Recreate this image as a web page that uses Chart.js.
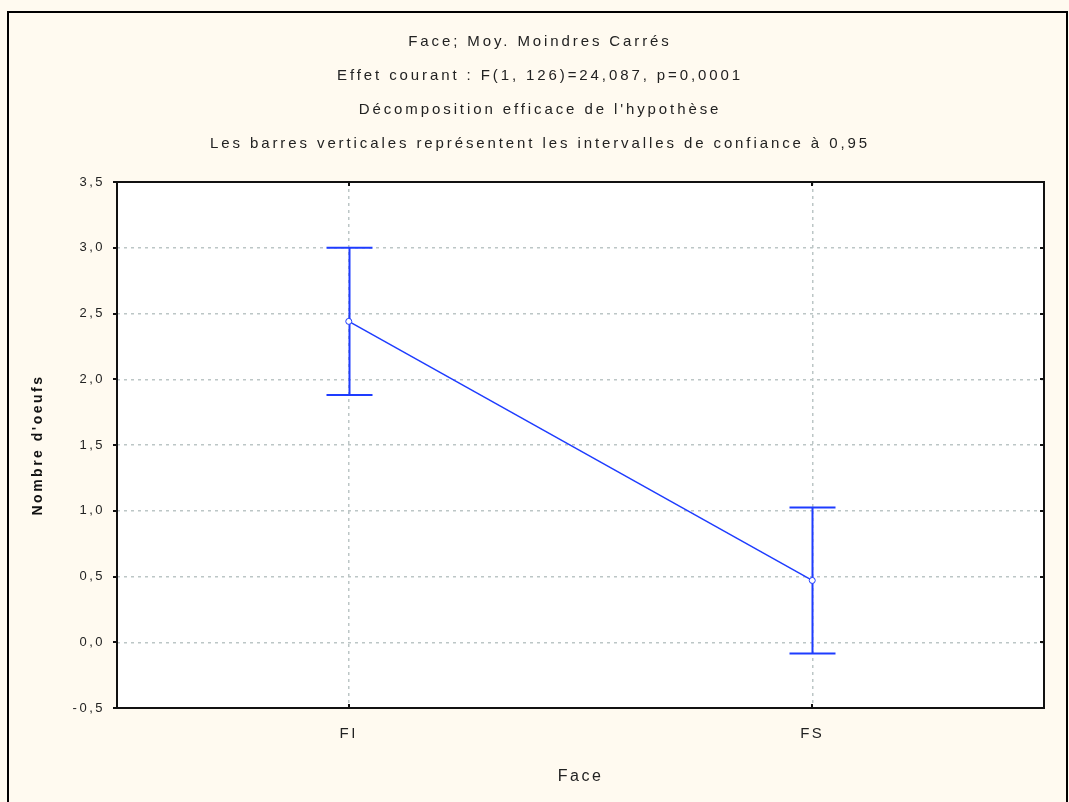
<!DOCTYPE html>
<html>
<head>
<meta charset="utf-8">
<script src="https://cdn.jsdelivr.net/npm/chart.js@4.4.1/dist/chart.umd.min.js"></script>
<style>
  body { margin: 0; background: #fffaf0; }
  #wrap { width: 1069px; height: 802px; }
</style>
</head>
<body>
<div id="wrap"><canvas id="myChart"></canvas></div>
<script>
// valeurs
const categories = ['FI', 'FS'];
const means = [2.44, 0.47];
const lower = [1.88, -0.085];
const upper = [3.0, 1.025];
const yTicks = [-0.5, 0, 0.5, 1, 1.5, 2, 2.5, 3, 3.5];

const titleLines = [
    'Face; Moy. Moindres Carrés',
    'Effet courant : F(1, 126)=24,087, p=0,0001',
    "Décomposition efficace de l'hypothèse",
    'Les barres verticales représentent les intervalles de confiance à 0,95'
];
const xTitle = 'Face';
const yTitle = "Nombre d'oeufs";

const blue = '#1e3cff';
const fam = '"Liberation Sans", Arial, sans-serif';

const decor = {
    id: 'decor',
    beforeDraw(chart) {
        const ctx = chart.ctx;
        const a = chart.chartArea;
        ctx.save();
        ctx.fillStyle = '#fffaf0';
        ctx.fillRect(0, 0, chart.width, chart.height);
        ctx.fillStyle = '#ffffff';
        ctx.fillRect(a.left, a.top, a.right - a.left, a.bottom - a.top);
        ctx.strokeStyle = '#000';
        ctx.lineWidth = 2;
        ctx.strokeRect(8, 12, 1059, 830);
        ctx.restore();
        // espacement des lettres comme dans l'original
        ctx.letterSpacing = '2.5px';
    },
    beforeDatasetsDraw(chart) {
        const ctx = chart.ctx;
        const x = chart.scales.x, y = chart.scales.y;
        ctx.save();
        ctx.strokeStyle = blue;
        ctx.lineWidth = 2;
        for (let i = 0; i < categories.length; i++) {
            const px = Math.round(x.getPixelForValue(i)) + 0.5;
            const yl = y.getPixelForValue(lower[i]);
            const yu = y.getPixelForValue(upper[i]);
            ctx.beginPath();
            ctx.moveTo(px, yl); ctx.lineTo(px, yu);
            ctx.moveTo(px - 23, yl); ctx.lineTo(px + 23, yl);
            ctx.moveTo(px - 23, yu); ctx.lineTo(px + 23, yu);
            ctx.stroke();
        }
        ctx.restore();
    },
    afterDraw(chart) {
        const ctx = chart.ctx;
        const a = chart.chartArea;
        const x = chart.scales.x, y = chart.scales.y;
        ctx.save();
        ctx.strokeStyle = '#111';
        ctx.lineWidth = 2;
        ctx.strokeRect(a.left, a.top, a.right - a.left, a.bottom - a.top);
        ctx.beginPath();
        yTicks.forEach(v => {
            const py = Math.round(y.getPixelForValue(v));
            ctx.moveTo(a.left - 4, py); ctx.lineTo(a.left, py);
            ctx.moveTo(a.right - 4, py); ctx.lineTo(a.right, py);
        });
        categories.forEach((c, i) => {
            const px = Math.round(x.getPixelForValue(i));
            ctx.moveTo(px, a.top); ctx.lineTo(px, a.top + 4);
            ctx.moveTo(px, a.bottom); ctx.lineTo(px, a.bottom - 4);
        });
        ctx.stroke();

        ctx.letterSpacing = '2.9px';
        ctx.fillStyle = '#222';
        ctx.font = '15px ' + fam;
        ctx.textAlign = 'center';
        ctx.textBaseline = 'middle';
        const ys = [42, 76, 110, 144];
        titleLines.forEach((t, i) => ctx.fillText(t, 540, ys[i]));
        ctx.restore();
    }
};

const data = {
    labels: categories,
    datasets: [{
        data: means,
        borderColor: blue,
        borderWidth: 1.5,
        pointRadius: 3,
        pointBorderWidth: 1,
        pointBackgroundColor: '#ffffff',
        pointBorderColor: blue,
        tension: 0
    }]
};

const config = {
    type: 'line',
    data: data,
    options: {
        responsive: true,
        maintainAspectRatio: false,
        animation: false,
        layout: { padding: { left: 0, top: 182, right: 25, bottom: 0 } },
        plugins: {
            legend: { display: false },
            tooltip: { enabled: false }
        },
        scales: {
            x: {
                offset: true,
                afterFit(scale) { scale.height = 94; },
                grid: { color: '#bcc6c6', lineWidth: 1.5, drawTicks: false },
                border: { display: false, dash: [3, 4] },
                ticks: { color: '#222', padding: 17, font: { size: 15, family: fam } },
                title: { display: true, text: xTitle, color: '#222', padding: { top: 0, bottom: 16 }, font: { size: 16, family: fam } }
            },
            y: {
                min: -0.5,
                max: 3.5,
                afterFit(scale) { scale.width = 117; },
                afterBuildTicks(scale) { scale.ticks = yTicks.map(v => ({ value: v })); },
                grid: { color: '#bcc6c6', lineWidth: 1.5, drawTicks: false },
                border: { display: false, dash: [3, 4] },
                ticks: {
                    color: '#222',
                    padding: 12,
                    font: { size: 13, family: fam },
                    callback: v => Number(v).toFixed(1).replace('.', ',')
                },
                title: { display: true, text: yTitle, color: '#111', padding: { top: 30, bottom: 0 }, font: { size: 14, weight: 'bold', family: fam } }
            }
        }
    },
    plugins: [decor]
};

const myChart = new Chart(document.getElementById('myChart'), config);
</script>
</body>
</html>
